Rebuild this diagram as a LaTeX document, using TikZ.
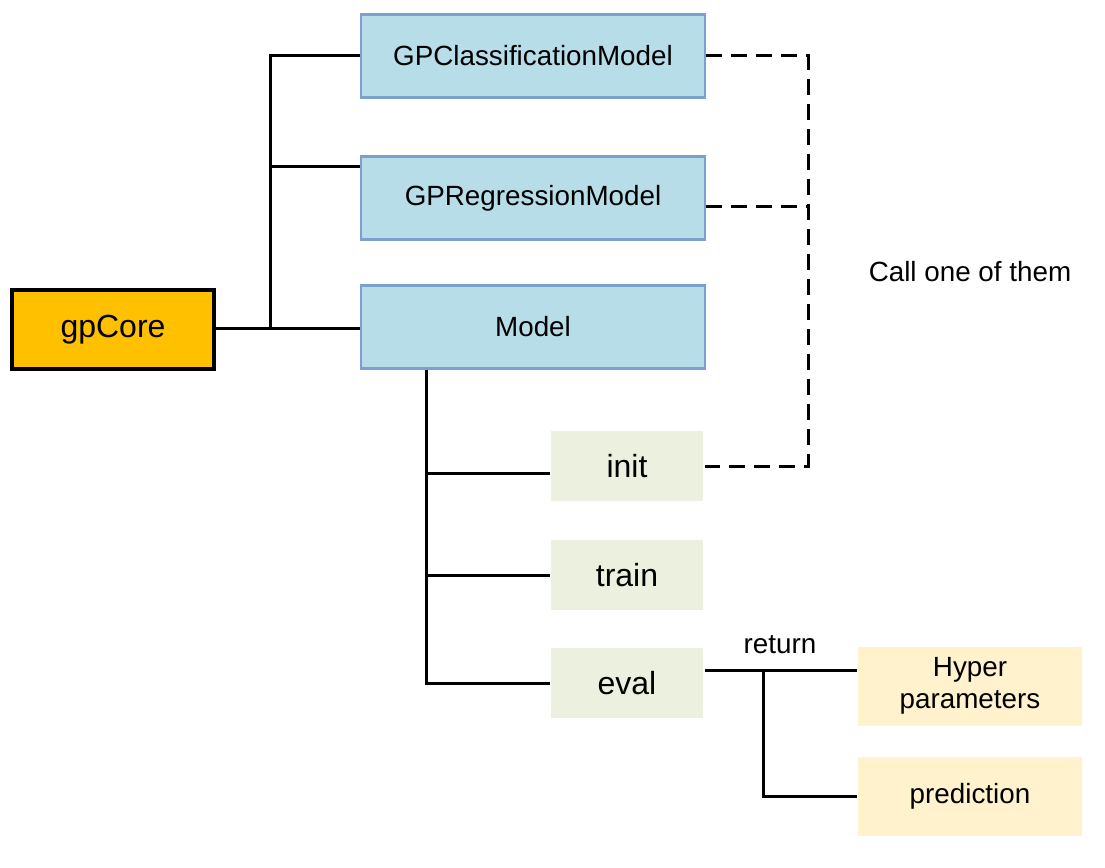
\documentclass[tikz,border=0pt]{standalone}
\usepackage{fontspec}
\setmainfont{Liberation Sans}
\definecolor{coreorange}{HTML}{FFC000}
\definecolor{clsblue}{HTML}{B7DDE8}
\definecolor{clsedge}{HTML}{7BA0CD}
\definecolor{fungreen}{HTML}{EBF1DE}
\definecolor{outyellow}{HTML}{FFF2CC}
\begin{document}
\begin{tikzpicture}[x=1pt, y=-1pt, line join=miter,
  every path/.style={line width=3pt},
  txt/.style={font=\fontsize{27.8}{32}\selectfont},
  big/.style={font=\fontsize{32}{36}\selectfont},
  corebox/.style={draw=black, line width=3.5pt, fill=coreorange, minimum width=202pt, minimum height=79pt, big},
  clsbox/.style={draw=clsedge, line width=2.8pt, fill=clsblue, minimum width=344pt, minimum height=83pt, txt},
  funbox/.style={fill=fungreen, minimum width=152pt, minimum height=70pt, big},
  outbox/.style={fill=outyellow, minimum width=224pt, minimum height=79pt, txt, align=center},
  dashline/.style={dash pattern=on 16pt off 9pt}]
 \useasboundingbox (0,0) rectangle (1105,867);
 % boxes
 \node[corebox] (core) at (113,329.5) {gpCore};
 \node[clsbox] (cls) at (533,56) {GPClassificationModel};
 \node[clsbox] (reg) at (533,198) {GPRegressionModel};
 \node[clsbox] (model) at (533,327) {Model};
 \node[funbox] (init) at (627,466) {init};
 \node[funbox] (train) at (627,575) {train};
 \node[funbox] (eval) at (627,683) {eval};
 \node[outbox] (hyper) at (970,686) {\raisebox{-3pt}{Hyper}\\\raisebox{-3pt}{parameters}};
 \node[outbox] (pred) at (970,796) {\raisebox{-3pt}{prediction}};
 \node[txt] (call) at (970,272) {Call one of them};
 % tree lines
 \coordinate (j1) at (270,328);
 \draw (core.east |- j1) -- (model.west |- j1);
 \draw (j1) |- (cls.west);
 \draw (j1 |- reg.west) ++(0,-32) -- ([yshift=32pt]reg.west);
 \coordinate (mb) at ([xshift=67pt]model.south west);
 \draw (mb) |- (eval.west);
 \draw (mb |- init.west) ++(0,7) -- ([yshift=-7pt]init.west);
 \draw (mb |- train.west) -- (train.west);
 % return
 \coordinate (r) at (763,670);
 \draw (eval.east |- r) -- (hyper.west |- r);
 \draw (r) |- (pred.west);
 \node[txt, above] (ret) at (780,659) {return};
 % dashed
 \coordinate (dc) at (808,56);
 \draw[dashline] (cls.east) -- (dc) -- (dc |- init.east) -- (init.east);
 \draw[dashline] ([yshift=-8pt]reg.east) -- (dc |- 0,206);
\end{tikzpicture}
\end{document}
